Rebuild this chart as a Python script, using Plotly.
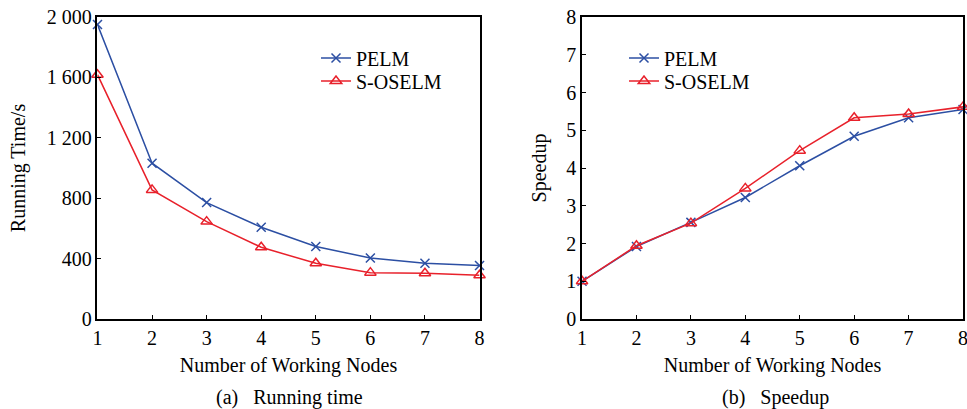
import plotly.graph_objects as go

nodes = [1, 2, 3, 4, 5, 6, 7, 8]
time_pelm = [1950, 1032, 771, 608, 480, 404, 369, 354]
time_soselm = [1618, 855, 645, 475, 369, 307, 303, 290]
speed_pelm = [1.0, 1.92, 2.56, 3.22, 4.06, 4.84, 5.33, 5.55]
speed_soselm = [1.0, 1.94, 2.54, 3.46, 4.46, 5.33, 5.43, 5.62]

time_tickvals = [0, 400, 800, 1200, 1600, 2000]
time_ticktext = ["0", "400", "800", "1 200", "1 600", "2 000"]
speed_tickvals = [0, 1, 2, 3, 4, 5, 6, 7, 8]

BLUE = "#2c4fa3"
RED = "#e8212b"
FONT = "Liberation Serif"
TS = 20

fig = go.Figure()

def add(x, y, name, color, symbol, xa, ya, legend, size):
    fig.add_trace(go.Scatter(
        x=x, y=y, name=name, mode="lines+markers", showlegend=True,
        line=dict(color=color, width=1.5),
        marker=dict(symbol=symbol, size=size, color=color,
                    line=dict(color=color, width=1.5)),
        xaxis=xa, yaxis=ya, legend=legend, cliponaxis=False))

add(nodes, time_pelm, "PELM", BLUE, "x-thin-open", "x", "y", "legend", 9)
add(nodes, time_soselm, "S-OSELM", RED, "triangle-up-open", "x", "y", "legend2", 10)
add(nodes, speed_pelm, "PELM", BLUE, "x-thin-open", "x2", "y2", "legend3", 9)
add(nodes, speed_soselm, "S-OSELM", RED, "triangle-up-open", "x2", "y2", "legend4", 10)

axis_common = dict(showline=True, linecolor="black", linewidth=1.5, mirror=True,
                   showgrid=False, zeroline=False, ticks="inside", ticklen=4,
                   tickcolor="black", automargin=False, ticklabeloverflow="allow",
                   tickfont=dict(family=FONT, size=TS, color="black"))

def leg(xpx, ypx):
    return dict(x=xpx/967, y=1 - ypx/409, xanchor="left", yanchor="middle",
                bgcolor="rgba(0,0,0,0)", font=dict(family=FONT, size=TS),
                itemwidth=30, visible=True)

ydom = [0.22, 0.9584]
fig.update_layout(
    width=967, height=409,
    showlegend=True,
    margin=dict(l=0, r=0, t=0, b=0, autoexpand=False),
    paper_bgcolor="white", plot_bgcolor="white",
    font=dict(family=FONT, size=TS, color="black"),
    xaxis=dict(domain=[0.1008, 0.4959], range=[1, 8], tickvals=nodes, **axis_common,
               title=dict(text="Number of Working Nodes", standoff=10,
                          font=dict(family=FONT, size=TS))),
    yaxis=dict(domain=ydom, range=[0, 2000], tickvals=time_tickvals,
               ticktext=time_ticktext, **axis_common,
               title=dict(text="Running Time/s", standoff=16,
                          font=dict(family=FONT, size=TS))),
    xaxis2=dict(domain=[0.6019, 0.9959], range=[1, 8], tickvals=nodes, anchor="y2",
                **axis_common,
                title=dict(text="Number of Working Nodes", standoff=10,
                           font=dict(family=FONT, size=TS))),
    yaxis2=dict(domain=ydom, range=[0, 8], tickvals=speed_tickvals, anchor="x2",
                **axis_common,
                title=dict(text="Speedup", standoff=14,
                           font=dict(family=FONT, size=TS))),
    legend=leg(316, 58),
    legend2=leg(316, 81),
    legend3=leg(624, 58),
    legend4=leg(624, 81),
    annotations=[
        dict(text="(a)   Running time", x=289/967, y=1 - 397/409, xref="paper",
             yref="paper", xanchor="center", yanchor="middle", showarrow=False,
             font=dict(family=FONT, size=TS)),
        dict(text="(b)   Speedup", x=775/967, y=1 - 397/409, xref="paper",
             yref="paper", xanchor="center", yanchor="middle", showarrow=False,
             font=dict(family=FONT, size=TS)),
    ],
)

fig.write_html("out.html")
